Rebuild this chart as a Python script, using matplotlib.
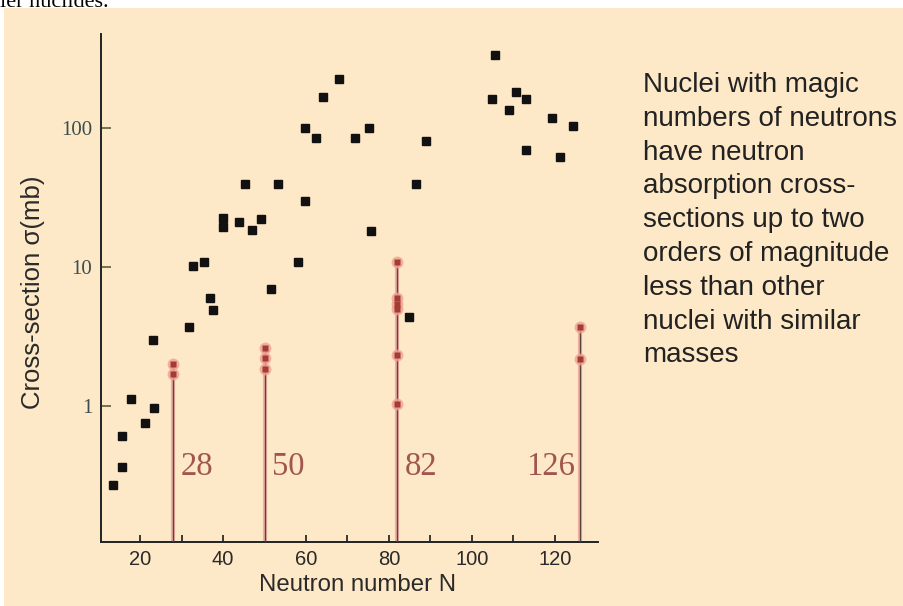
import numpy as np
import matplotlib
matplotlib.use('Agg')
import matplotlib.pyplot as plt
from matplotlib.patches import Rectangle

# black points: ordinary nuclei
black_n = [13.4, 15.7, 15.7, 17.8, 21.1, 23.3, 23.1, 31.9, 32.8, 35.5,
           36.9, 37.5, 40.1, 40.1, 43.8, 45.4, 46.9, 49.2, 51.5, 53.2,
           58.0, 59.7, 59.8, 62.3, 64.1, 68.0, 71.9, 75.3, 75.7, 84.8,
           86.6, 89.0, 105.6, 104.9, 110.6, 113.0, 109.0, 119.2, 124.3, 113.1,
           121.2]
black_sigma = [0.266, 0.362, 0.606, 1.12, 0.748, 0.955, 2.95, 3.66, 10.2, 10.8,
               5.95, 4.86, 22.6, 19.2, 21.2, 39.3, 18.4, 22.2, 6.88, 39.8,
               10.9, 29.8, 99.7, 85, 167, 225, 85, 99.7, 18.1, 4.38,
               39.3, 81, 335, 161, 183, 161, 136, 119, 103, 70,
               62]

# red points: magic neutron numbers
red_n = [28, 28, 50, 50, 50, 82, 82, 82, 82, 82, 82, 126, 126]
red_sigma = [2.01, 1.68, 2.61, 2.19, 1.85, 10.8, 5.95, 5.43, 4.96, 2.33, 1.03, 3.71, 2.15]
magic_n = [28, 50, 82, 126]
magic_labels = ['28', '50', '82', '126']

x_ticks = [20, 40, 60, 80, 100, 120]
y_ticks = [1, 10, 100]
y_ticklabels = ['1', '10', '100']

note = ("Nuclei with magic\nnumbers of neutrons\nhave neutron\nabsorption cross-\n"
        "sections up to two\norders of magnitude\nless than other\n"
        "nuclei with similar\nmasses")

bg = '#fde8c7'

fig = plt.figure(figsize=(9.04, 6.06), dpi=100)
fig.patch.set_facecolor('white')
fig.patches.append(Rectangle((4 / 904, 0), 1, 1 - 8 / 606, transform=fig.transFigure,
                             facecolor=bg, edgecolor='none', zorder=-10))
fig.text(0.0, 1 - 7 / 606, 'ier nuclides.', family='Liberation Serif', fontsize=16,
         va='baseline', ha='left', color='black')

ax = fig.add_axes([100.7 / 904, 64 / 606, (598 - 100.7) / 904, (542 - 34) / 606])
ax.set_facecolor('none')
ax.set_yscale('log')
ax.set_xlim(10.5, 130.4)
ax.set_ylim(0.104, 476)

for s in ['top', 'right']:
    ax.spines[s].set_visible(False)
for s in ['left', 'bottom']:
    ax.spines[s].set_color('#1e2424')
    ax.spines[s].set_linewidth(1.4)

# magic number lines
tops = [max(v for n2, v in zip(red_n, red_sigma) if n2 == n) for n in magic_n]
ax.vlines(magic_n, 0.104, tops, color='#f0b0a4', lw=3.0, zorder=2)
ax.vlines(magic_n, 0.104, tops, color='#5e4440', lw=1.0, zorder=3)

ax.plot(black_n, black_sigma, 's', color='#111111', ms=6, zorder=4)
ax.plot(red_n, red_sigma, 'o', color='#f0a090', ms=8.5, alpha=0.8, mec='none', zorder=4)
ax.plot(red_n, red_sigma, 's', color='#a23c36', ms=4, mec='none', zorder=5)

for n, lab in zip(magic_n, magic_labels):
    if n == 126:
        ax.text(n - 1.2, 0.36, lab, ha='right', va='center', family='Liberation Serif',
                fontsize=23.5, color='#a0564e', zorder=5)
    else:
        ax.text(n + 1.8, 0.36, lab, ha='left', va='center', family='Liberation Serif',
                fontsize=23.5, color='#a0564e', zorder=5)

ax.set_xticks(x_ticks)
ax.set_xticks([30, 50, 70, 90, 110], minor=True)
ax.set_xticklabels([str(v) for v in x_ticks], family='Liberation Sans', fontsize=14.5,
                   color='#2a2a2a')
ax.set_yticks(y_ticks)
ax.set_yticklabels(y_ticklabels, family='Liberation Serif', fontsize=15, color='#3b4d4d')
ax.yaxis.set_minor_locator(matplotlib.ticker.NullLocator())
ax.tick_params(axis='x', which='both', direction='in', length=5, width=1.3,
               color='#2a2a2a', pad=6)
ax.tick_params(axis='y', which='both', direction='in', length=7, width=1.3,
               color='#6a6a40', pad=6)

fig.text(358 / 904, 1 - 585 / 606, 'Neutron number N', family='Liberation Sans',
         fontsize=17.3, ha='center', va='center', color='#2a2a2a')
fig.text(33 / 904, 1 - 292 / 606, 'Cross-section σ(mb)', family='Liberation Sans',
         fontsize=18.5, rotation=90, ha='center', va='center', color='#2a2a2a')

fig.text(643 / 904, 1 - 72 / 606, note, family='Liberation Sans', fontsize=20,
         ha='left', va='top', linespacing=1.39, color='#222222')

fig.savefig('out.png', dpi=100)
